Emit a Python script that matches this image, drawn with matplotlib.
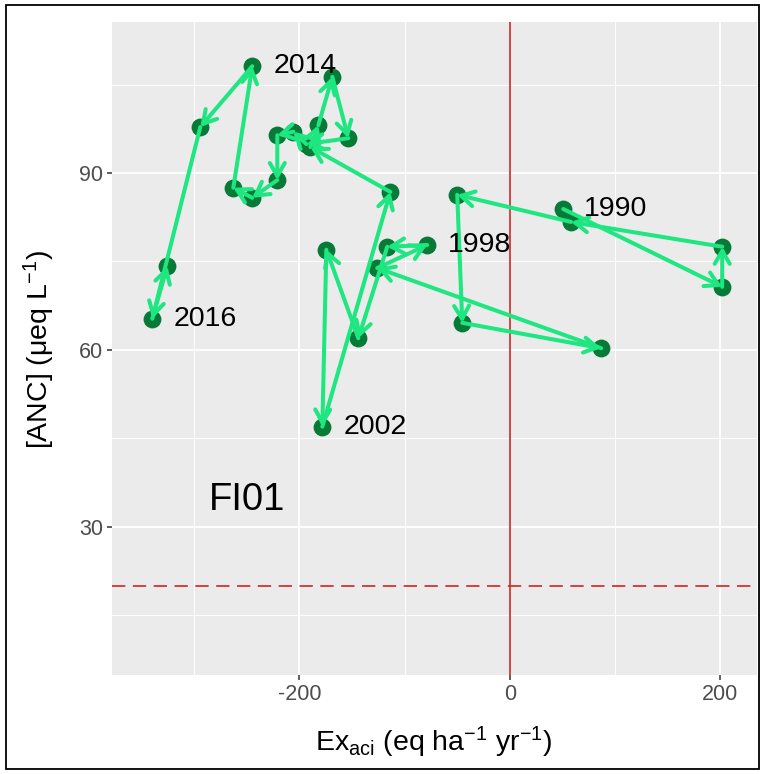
import numpy as np
import matplotlib.pyplot as plt
from matplotlib.patches import FancyArrowPatch, ArrowStyle, Rectangle

plt.rcParams['font.family'] = ['Liberation Sans', 'DejaVu Sans']
plt.rcParams['mathtext.fontset'] = 'custom'
plt.rcParams['mathtext.rm'] = 'Liberation Sans'
plt.rcParams['mathtext.it'] = 'Liberation Sans:italic'
plt.rcParams['axes.unicode_minus'] = False

# yearly values (site FI01)
years = list(range(1990, 2018))
exaci = [50.8, 201.9, 202.0, 58.4, -49.9, -45.1, 86.9, -125.9, -78.4, -116.4,
         -143.9, -174.3, -178.1, -113.5, -189.5, -181.9, -168.6, -153.4, -193.3, -205.7,
         -220.9, -220.9, -244.7, -262.7, -244.7, -294.1, -339.7, -325.4]
anc = [83.9, 70.7, 77.5, 81.7, 86.3, 64.6, 60.3, 73.9, 77.8, 77.5,
       62.0, 77.0, 47.0, 86.8, 94.4, 98.1, 106.3, 95.9, 94.9, 97.0,
       96.4, 88.8, 85.8, 87.5, 108.1, 97.8, 65.3, 74.2]
labelled = [1990, 1998, 2002, 2014, 2016]
site = 'FI01'
anc_limit = 20

fig = plt.figure(figsize=(7.65, 7.74), dpi=100)
ax = fig.add_axes([112/765, 1 - 675/774, (757 - 112)/765, (675 - 22)/774])
ax.set_facecolor('#EBEBEB')
for s in ax.spines.values():
    s.set_visible(False)

ax.set_xticks([-200, 0, 200])
ax.set_xticks([-300, -100, 100], minor=True)
ax.set_yticks([30, 60, 90])
ax.set_yticks([15, 45, 75, 105], minor=True)
ax.grid(True, which='major', color='white', lw=1.3)
ax.grid(True, which='minor', color='white', lw=0.65)
ax.set_axisbelow(True)
ax.tick_params(which='major', length=3.5, width=1.1, color='#333333',
               labelcolor='#4D4D4D', labelsize=15.5, pad=3)
ax.tick_params(which='minor', length=0)

ax.axvline(0, color='#CD2626', lw=1.2, zorder=1.5)
ax.axhline(anc_limit, color='#CD2626', lw=1.2, ls=(0, (8, 4.5)), zorder=1.5)

ax.scatter(exaci, anc, s=165, color='#087A37', lw=0, zorder=3)

head = ArrowStyle('->', head_length=9.4, head_width=5.4)
for i in range(len(years) - 1):
    arr = FancyArrowPatch((exaci[i], anc[i]), (exaci[i + 1], anc[i + 1]),
                          arrowstyle=head, mutation_scale=1, color='#1EE680',
                          lw=2.9, shrinkA=0, shrinkB=0, zorder=4)
    ax.add_patch(arr)

for yr in labelled:
    i = years.index(yr)
    ax.text(exaci[i] + 20, anc[i], str(yr), fontsize=20.5, ha='left', va='center', zorder=5)

ax.text(-286, 34.6, site, fontsize=27.5, ha='left', va='center')

ax.set_xlim(-378, 235)
ax.set_ylim(4.9, 115.6)

fig.text(434/765, 1 - 742/774, r'Ex$_{\mathrm{aci}}$ (eq ha$^{-1}$ yr$^{-1}$)',
         ha='center', va='center', fontsize=20.5)
fig.text(39/765, 1 - 350/774, r'[ANC] (μeq L$^{-1}$)', rotation=90,
         ha='center', va='center', fontsize=20.5)

fig.add_artist(Rectangle((6/765, 5/774), (759 - 6)/765, (769 - 5)/774,
                         transform=fig.transFigure, fill=False, ec='black', lw=1.3))

fig.savefig('out.png', dpi=100)
